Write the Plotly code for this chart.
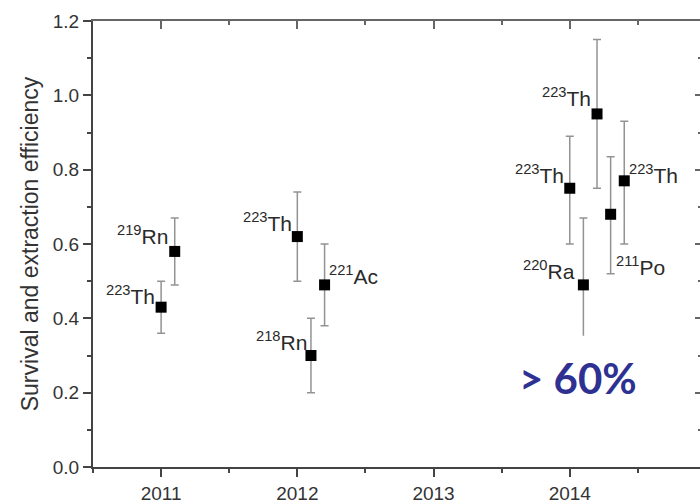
import plotly.graph_objects as go

# Measurement campaigns: position along the time axis (year) and isotope
years = [2011.0, 2011.1, 2012.0, 2012.1, 2012.2,
         2014.0, 2014.1, 2014.2, 2014.3, 2014.4]
isotopes = ["223Th", "219Rn", "223Th", "218Rn", "221Ac",
            "223Th", "220Ra", "223Th", "211Po", "223Th"]
efficiency = [0.43, 0.58, 0.62, 0.30, 0.49,
              0.75, 0.49, 0.95, 0.68, 0.77]
err_plus = [0.07, 0.09, 0.12, 0.10, 0.11,
            0.14, 0.18, 0.20, 0.155, 0.16]
err_minus = [0.07, 0.09, 0.12, 0.10, 0.11,
             0.15, 0.18, 0.20, 0.16, 0.17]

year_ticks = [2011, 2012, 2013, 2014]
year_labels = ["2011", "2012", "2013", "2014"]
y_ticks = [0.0, 0.2, 0.4, 0.6, 0.8, 1.0, 1.2]
summary_text = "> 60%"

# label placement next to each marker: (side, dx px, baseline dy px above centre)
label_place = [("right", -4, 2), ("right", -5, 6), ("right", -3, 5),
               ("right", -2, 5), ("left", 2, 0), ("right", -4, 4),
               ("right", -6, 5), ("right", -4, 7), ("left", 3, -62),
               ("left", 3, -3)]

AXIS = "#444444"
TEXT = "#333333"
FONT = "Liberation Sans, Arial, sans-serif"

fig = go.Figure()
fig.add_trace(go.Scatter(
    x=years, y=efficiency, mode="markers",
    marker=dict(symbol="square", size=11, color="black"),
    error_y=dict(type="data", symmetric=False, array=err_plus,
                 arrayminus=err_minus, color="#939393",
                 thickness=1.5, width=4),
    showlegend=False, hoverinfo="skip",
))
# carrier trace for the mirrored top / right axes
fig.add_trace(go.Scatter(x=[years[0]], y=[efficiency[0]], xaxis="x2", yaxis="y2",
                         mode="markers", marker=dict(opacity=0),
                         showlegend=False, hoverinfo="skip"))


def sup_label(name):
    digits = "".join(c for c in name if c.isdigit())
    elem = "".join(c for c in name if not c.isdigit())
    return f"<sup>{digits}</sup>{elem}"


for xv, yv, name, (side, dx, dy) in zip(years, efficiency, isotopes, label_place):
    fig.add_annotation(
        x=xv, y=yv, xref="x", yref="y", text=sup_label(name),
        showarrow=False, xanchor=side, yanchor="bottom",
        xshift=dx, yshift=dy - 5,
        font=dict(family=FONT, size=21, color="#2a2a2a"),
    )

# text box holding the summary statement
fig.add_shape(type="rect", xref="x", yref="y", x0=2013.55, x1=2014.62,
              y0=0.12, y1=0.353, fillcolor="white", line=dict(width=0),
              layer="above")
fig.add_annotation(
    x=2014.06, y=0.24, xref="x", yref="y", text=f"<b>{summary_text}</b>",
    showarrow=False, xanchor="center", yanchor="middle",
    font=dict(family="Lato, Open Sans, sans-serif", size=42, color="#2e3192"),
)

fig.update_layout(
    width=700, height=504,
    margin=dict(l=93, r=0, t=21, b=34),
    paper_bgcolor="white", plot_bgcolor="white",
    font=dict(family=FONT, color=TEXT),
    xaxis=dict(
        range=[2010.5, 2014.956], tickmode="array", tickvals=year_ticks,
        ticktext=year_labels, ticks="outside", ticklen=8, tickwidth=1.5,
        tickcolor=AXIS, showline=True, linecolor=AXIS, linewidth=2,
        showgrid=False, zeroline=False, tickfont=dict(size=19, color=TEXT),
        minor=dict(tick0=2010.5, dtick=0.5, ticks="outside", ticklen=4,
                   tickwidth=1.5, tickcolor=AXIS, showgrid=False),
    ),
    xaxis2=dict(
        overlaying="x", side="top", anchor="y", matches="x",
        tickmode="array", tickvals=year_ticks, ticks="inside", ticklen=8,
        tickwidth=1.5, tickcolor="#666666", showticklabels=False,
        showline=True, linecolor="#666666", linewidth=2, showgrid=False,
        zeroline=False,
        minor=dict(tick0=2010.5, dtick=0.5, ticks="inside", ticklen=4,
                   tickwidth=1.5, tickcolor="#666666", showgrid=False),
    ),
    yaxis=dict(
        range=[0, 1.2], tickmode="array", tickvals=y_ticks, tickformat=".1f",
        ticks="outside", ticklen=8, tickwidth=1.5, tickcolor=AXIS,
        showline=True, linecolor=AXIS, linewidth=2, showgrid=False,
        zeroline=False, tickfont=dict(size=19, color=TEXT),
        minor=dict(dtick=0.1, ticks="outside", ticklen=4, tickwidth=1.5,
                   tickcolor=AXIS, showgrid=False),
        title=dict(text="Survival and extraction efficiency",
                   font=dict(size=23, color=TEXT), standoff=8),
    ),
    yaxis2=dict(
        overlaying="y", side="right", anchor="x", matches="y",
        tickmode="array", tickvals=y_ticks, ticks="inside", ticklen=5,
        tickwidth=1.5, tickcolor="#666666", showticklabels=False,
        showline=False, showgrid=False, zeroline=False,
        minor=dict(dtick=0.1, ticks="inside", ticklen=2, tickwidth=1.5,
                   tickcolor="#666666", showgrid=False),
    ),
)

fig.write_html("out.html")
